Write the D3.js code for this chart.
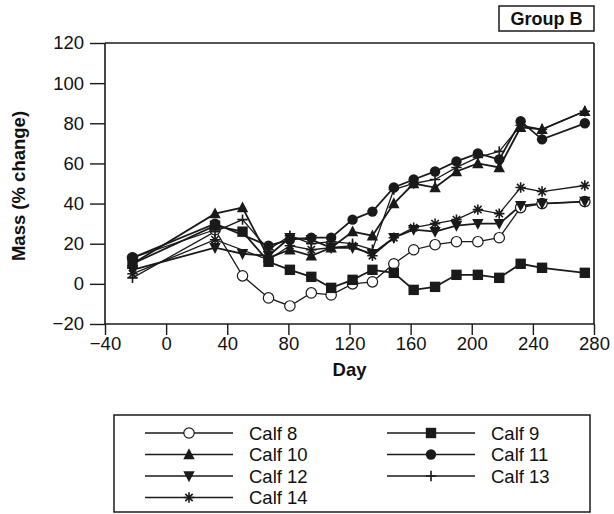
<!DOCTYPE html>
<html><head><meta charset="utf-8">
<script src="https://cdn.jsdelivr.net/npm/d3@7"></script>
<style>body{margin:0;background:#fff}svg{display:block}text{font-family:"Liberation Sans",Arial,sans-serif;fill:#111}</style>
</head><body><svg id="c" width="614" height="514"></svg>
<script>
const days = [-22, 32, 50, 67, 81, 95, 108, 122, 135, 149, 162, 176, 190, 204, 218, 232, 246, 274];
const calf8  = [13, 27, 4, -7, -11, -4.5, -5.5, 0, 1, 10, 17, 19.5, 21, 21, 23, 38, 40, 41];
const calf9  = [10, 29, 26, 11, 7, 3.5, -2, 2, 7, 5.5, -3, -1.5, 4.5, 4.5, 3, 10, 8, 5.5];
const calf10 = [10, 35, 38, 13, 17, 14, 18, 26, 24, 40, 50, 48, 56, 60, 58, 78, 77, 86];
const calf11 = [13, 30, null, 19, 22, 23, 23, 32, 36, 48, 52, 56, 61, 65, 62, 81, 72, 80];
const calf12 = [7, 18, 15, 14, 23, 22, 18, 18, 15, 23, 27, 26, 29, 30, 30, 39, 40, 41];
const calf13 = [3, 26, 32, 17, 24, 20, 21, 20, 17, 47, 50, 52, 58, 63, 66, 79, 77, 86];
const calf14 = [5, 22, null, 12, 19, 17, 18, 19, 14, 23, 28, 30, 32, 37, 35, 48, 46, 49];
const seriesNames = ["Calf 8","Calf 9","Calf 10","Calf 11","Calf 12","Calf 13","Calf 14"];
const seriesVals = [calf8, calf9, calf10, calf11, calf12, calf13, calf14];
const markers = ["openCircle","square","triangle","circle","downTriangle","plus","asterisk"];
const xTicks = [-40, 0, 40, 80, 120, 160, 200, 240, 280];
const yTicks = [-20, 0, 20, 40, 60, 80, 100, 120];

const svg = d3.select("#c");
const L = 105, R = 594, T = 43, B = 324;
const x = d3.scaleLinear().domain([-40, 280]).range([L, R]);
const y = d3.scaleLinear().domain([-20, 120]).range([B, T]);
const ink = "#1a1a1a";

svg.append("line").attr("x1",L).attr("x2",R).attr("y1",T).attr("y2",T).attr("stroke",ink).attr("stroke-width",1.6);
svg.append("line").attr("x1",R).attr("x2",R).attr("y1",T).attr("y2",B).attr("stroke",ink).attr("stroke-width",1.6);

const xAxis = svg.append("g").attr("transform",`translate(0,${B})`)
  .call(d3.axisBottom(x).tickValues(xTicks).tickSize(11).tickPadding(2).tickFormat(d=>d<0?"\u2212"+(-d):d));
const yAxis = svg.append("g").attr("transform",`translate(${L},0)`)
  .call(d3.axisLeft(y).tickValues(yTicks).tickSize(15).tickPadding(6).tickFormat(d=>d<0?"\u2212"+(-d):d));
[xAxis,yAxis].forEach(a=>{
  a.select(".domain").attr("stroke",ink).attr("stroke-width",1.6);
  a.selectAll(".tick line").attr("stroke",ink).attr("stroke-width",1.4);
  a.selectAll(".tick text").attr("font-size",18.5).attr("fill","#111").attr("font-family","Liberation Sans, Arial, sans-serif");
});
xAxis.select(".domain").attr("d",`M${L},0H${R}`);
yAxis.select(".domain").attr("d",`M0,${T}V${B}`);

svg.append("text").attr("x",(L+R)/2).attr("y",376).attr("text-anchor","middle")
  .attr("font-size",18.5).attr("font-weight","bold").text("Day");
svg.append("text").attr("transform","translate(25,186) rotate(-90)").attr("text-anchor","middle")
  .attr("font-size",18.5).attr("font-weight","bold").text("Mass (% change)");

svg.append("rect").attr("x",499).attr("y",6).attr("width",95).attr("height",25).attr("fill","#fff").attr("stroke",ink).attr("stroke-width",1.5);
svg.append("text").attr("x",546.5).attr("y",25).attr("text-anchor","middle").attr("font-size",18).attr("font-weight","bold").text("Group B");

function drawMarker(g, type, cx, cy){
  const s = 5.2;
  if(type==="openCircle") g.append("circle").attr("cx",cx).attr("cy",cy).attr("r",s).attr("fill","#fff").attr("stroke",ink).attr("stroke-width",1.2);
  else if(type==="circle") g.append("circle").attr("cx",cx).attr("cy",cy).attr("r",s).attr("fill",ink);
  else if(type==="square") g.append("rect").attr("x",cx-s).attr("y",cy-s).attr("width",2*s).attr("height",2*s).attr("fill",ink);
  else if(type==="triangle") g.append("path").attr("d",`M${cx},${cy-s-1}L${cx+s+0.5},${cy+s-0.5}L${cx-s-0.5},${cy+s-0.5}Z`).attr("fill",ink);
  else if(type==="downTriangle") g.append("path").attr("d",`M${cx},${cy+s+1}L${cx+s+0.5},${cy-s+0.5}L${cx-s-0.5},${cy-s+0.5}Z`).attr("fill",ink);
  else if(type==="plus") g.append("path").attr("d",`M${cx-s},${cy}H${cx+s}M${cx},${cy-s}V${cy+s}`).attr("stroke",ink).attr("stroke-width",1.6);
  else if(type==="asterisk"){
    let d="";
    for(let k=0;k<4;k++){const a=k*Math.PI/4; d+=`M${cx-s*Math.cos(a)},${cy-s*Math.sin(a)}L${cx+s*Math.cos(a)},${cy+s*Math.sin(a)}`;}
    g.append("path").attr("d",d).attr("stroke",ink).attr("stroke-width",1.6);
  }
}

const line = d3.line().x(d=>x(d[0])).y(d=>y(d[1]));
seriesVals.forEach((vals,i)=>{
  const pts = days.map((d,j)=>[d,vals[j]]).filter(p=>p[1]!==null);
  svg.append("path").datum(pts).attr("d",line).attr("fill","none").attr("stroke",ink)
    .attr("stroke-width", i===0||i===5||i===6 ? 1.3 : 1.8);
});
seriesVals.forEach((vals,i)=>{
  const g = svg.append("g");
  days.forEach((d,j)=>{ if(vals[j]!==null) drawMarker(g, markers[i], x(d), y(vals[j])); });
});

svg.append("rect").attr("x",114).attr("y",415).attr("width",476).attr("height",97).attr("fill","none").attr("stroke",ink).attr("stroke-width",1.5);
const legPos = [[0,0],[1,0],[0,1],[1,1],[0,2],[1,2],[0,3]];
seriesNames.forEach((nm,i)=>{
  const [c,r] = legPos[i];
  const x0 = c===0?145:387, yy = 433 + r*21.5;
  const g = svg.append("g");
  g.append("line").attr("x1",x0).attr("x2",x0+88).attr("y1",yy).attr("y2",yy).attr("stroke",ink).attr("stroke-width",1.4);
  drawMarker(g, markers[i], x0+44, yy);
  g.append("text").attr("x",x0+104).attr("y",yy+6.5).attr("font-size",18.5).text(nm);
});
</script></body></html>
